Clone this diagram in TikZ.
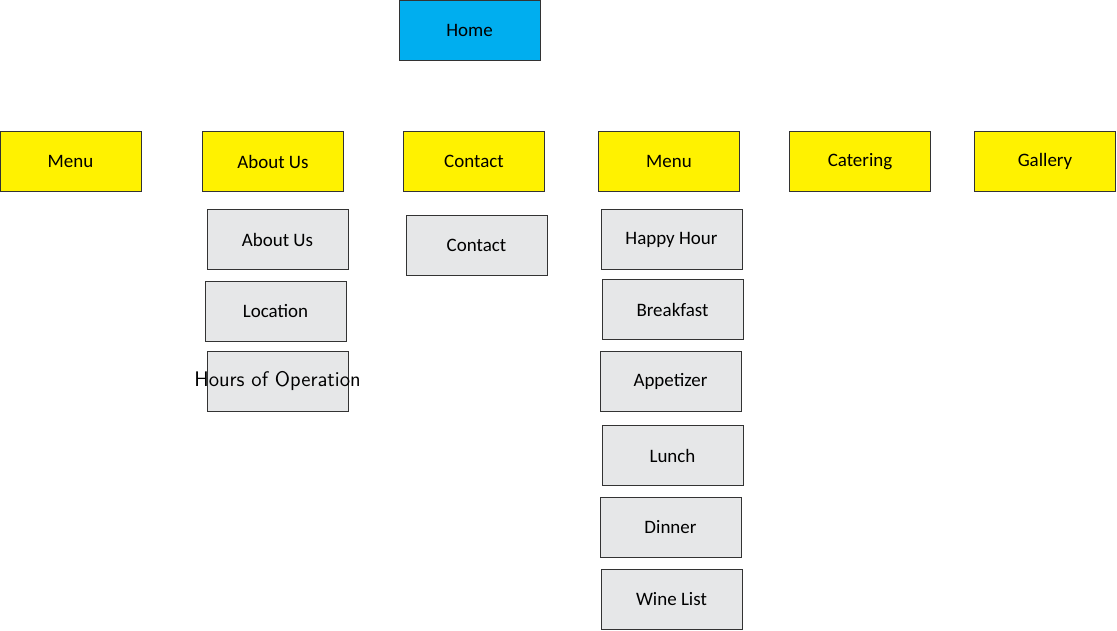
\documentclass[tikz,border=0pt]{standalone}
\usepackage{fontspec}
\setmainfont{Carlito}
\usepackage{tikz}

\definecolor{homeblue}{RGB}{0,174,239}
\definecolor{pageyellow}{RGB}{255,242,0}
\definecolor{subgray}{RGB}{230,231,232}

\begin{document}
\begin{tikzpicture}[x=0.02cm,y=-0.02cm]
\tikzset{box/.style={draw=black!80, line width=0.5pt, minimum width=2.82cm, minimum height=1.2cm, inner sep=0pt, font=\fontsize{10.8}{12}\selectfont},
  homebox/.style={box, fill=homeblue},
  pagebox/.style={box, fill=pageyellow},
  subbox/.style={box, fill=subgray}}
\useasboundingbox (0,0) rectangle (1117,631);
% top level
\node [homebox] (home) at (469.5,30.5) {Home};
% second level
\node [pagebox] (menuA) at (70.5,161.5) {Menu};
\node [pagebox] (about) at (273,161.5) {About Us};
\node [pagebox] (contact) at (474,161.5) {Contact};
\node [pagebox] (menuB) at (669,161.5) {Menu};
\node [pagebox] (catering) at (860,161.5) {Catering};
\node [pagebox] (gallery) at (1045,161.5) {Gallery};
% about us pages
\node [subbox] (aboutus) at (277.5,239.5) {About Us};
\node [subbox] (location) at (275.5,311.5) {Location};
\node [subbox, font=\sffamily\fontsize{12}{14}\selectfont] (hours) at (277.5,381.5) {\makebox[0pt]{Hours of Operation}};
% contact page
\node [subbox] (contactpg) at (476.5,245.5) {Contact};
% menu pages
\node [subbox] (happy) at (671.5,239.5) {Happy Hour};
\node [subbox] (breakfast) at (672.5,309.5) {Breakfast};
\node [subbox] (appetizer) at (670.5,381.5) {Appetizer};
\node [subbox] (lunch) at (672.5,455.5) {Lunch};
\node [subbox] (dinner) at (670.5,527.5) {Dinner};
\node [subbox] (wine) at (671.5,599.5) {Wine List};
\end{tikzpicture}
\end{document}
